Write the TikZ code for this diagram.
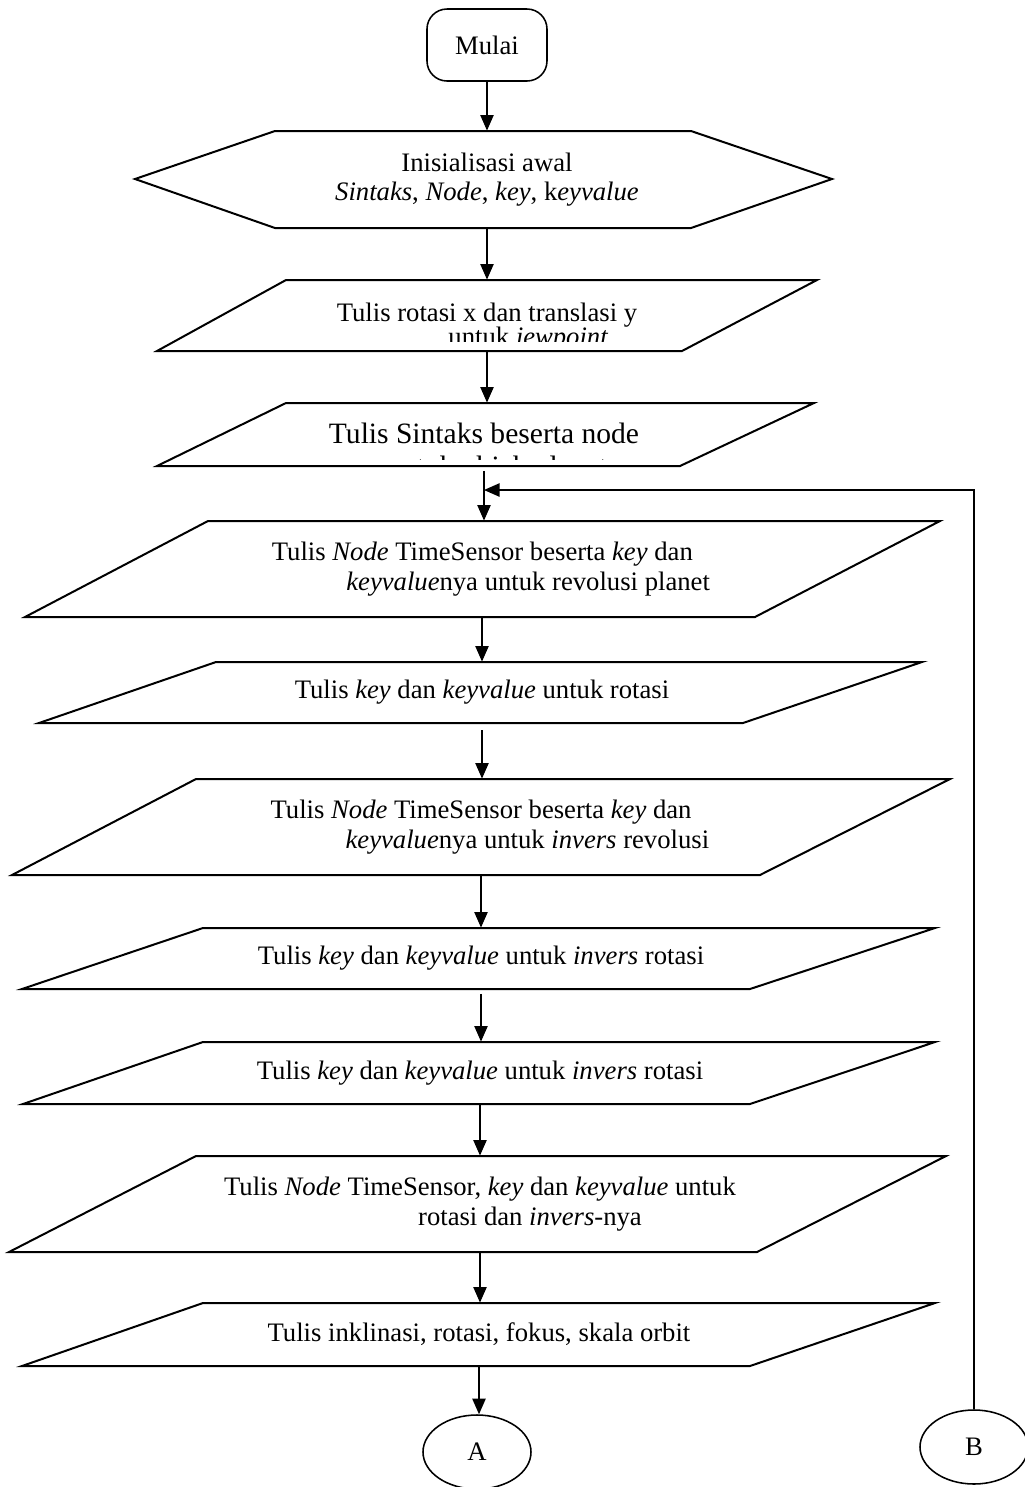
\documentclass[tikz,border=0pt]{standalone}
\usepackage{fontspec}
\setmainfont{Liberation Serif}
\usetikzlibrary{arrows.meta,shapes.geometric}
\tikzset{
  garis/.style={line width=0.9pt},
  panah/.style={line width=0.6pt,-{Triangle[length=7pt,width=6pt]}},
  teks/.style={inner sep=0pt,align=left,font=\fontsize{12}{13.5}\selectfont},
  konektor/.style={draw,ellipse,line width=0.7pt,inner sep=0pt,minimum width=48.6pt,minimum height=33.3pt,font=\fontsize{12}{14}\selectfont}
}

\begin{document}
\begin{tikzpicture}[x=0.45pt,y=-0.45pt]
		\useasboundingbox (0,0) rectangle (1024,1487);
		% awal
		\node[draw,line width=0.7pt,rounded corners=9pt,minimum width=54pt,minimum height=32.4pt,font=\fontsize{12}{14}\selectfont] (mulai) at (487,45) {Mulai};
		\draw[garis] (135,179) -- (275,131) -- (691,131) -- (832,179) -- (691,228) -- (275,228) -- cycle;
		\node[teks,align=center,minimum height=43.65pt,font=\fontsize{12}{13}\selectfont] (init) at (487,179.5) {Inisialisasi awal\\ \textit{Sintaks}, \textit{Node}, \textit{key}, k\textit{eyvalue}};
		% kotak tulis
		\draw[garis] (286,280) -- (817,280) -- (682,351) -- (157,351) -- cycle;
		\node[teks,minimum height=31.95pt] (viewp) at (487,315.5) {\raisebox{1.5pt}{Tulis rotasi x dan translasi y}};
		\begin{scope}
		\clip (157,280) rectangle (817,341);
		\node[teks,anchor=base west] (jew) at (448,345) {untuk \textit{jewpoint}};
		\end{scope}
		\draw[garis] (286,403) -- (814,403) -- (680,466) -- (157,466) -- cycle;
		\node[teks,minimum height=28.35pt,font=\fontsize{13.3}{16}\selectfont] (sintaks) at (484,434.5) {\raisebox{1pt}{Tulis Sintaks beserta node}};
		\begin{scope}
		\clip (157,403) rectangle (814,459);
		\node[teks,anchor=base,font=\fontsize{13.3}{16}\selectfont] (objek) at (497,476) {untuk objek planet};
		\end{scope}
		\draw[garis] (208,521) -- (940,521) -- (755,617) -- (25,617) -- cycle;
		\node[teks,minimum height=43.2pt] (revol) at (482,569) {\hspace*{8pt}Tulis \textit{Node} TimeSensor beserta \textit{key} dan\\ \hspace*{41.5pt}\textit{keyvalue}nya untuk revolusi planet};
		\draw[garis] (216,662) -- (922,662) -- (743,723) -- (39,723) -- cycle;
		\node[teks,minimum height=27.45pt] (rotasi) at (482,692.5) {Tulis \textit{key} dan \textit{keyvalue} untuk rotasi};
		\draw[garis] (196,779) -- (950,779) -- (760,875) -- (12,875) -- cycle;
		\node[teks,minimum height=43.2pt] (invrevol) at (481,827) {\hspace*{8pt}Tulis \textit{Node} TimeSensor beserta \textit{key} dan\\ \hspace*{41.75pt}\textit{keyvalue}nya untuk \textit{invers} revolusi};
		\draw[garis] (203,928) -- (935,928) -- (750,989) -- (22,989) -- cycle;
		\node[teks,minimum height=27.45pt] (invrot) at (481,958.5) {Tulis \textit{key} dan \textit{keyvalue} untuk \textit{invers} rotasi};
		\draw[garis] (203,1042) -- (935,1042) -- (750,1104) -- (23,1104) -- cycle;
		\node[teks,minimum height=27.9pt] (invrotb) at (480,1073) {Tulis \textit{key} dan \textit{keyvalue} untuk \textit{invers} rotasi};
		\draw[garis] (196,1156) -- (946,1156) -- (757,1252) -- (9,1252) -- cycle;
		\node[teks,minimum height=43.2pt] (gabung) at (480,1204) {Tulis \textit{Node} TimeSensor, \textit{key} dan \textit{keyvalue} untuk\\ \hspace*{87.3pt}rotasi dan \textit{invers}-nya};
		\draw[garis] (203,1303) -- (935,1303) -- (750,1366) -- (22,1366) -- cycle;
		\node[teks,minimum height=28.35pt] (orbit) at (479,1334.5) {Tulis inklinasi, rotasi, fokus, skala orbit};
		% penghubung
		\node[konektor] (konA) at (477,1452) {A};
		\node[konektor] (konB) at (974,1447) {B};
		\coordinate (masuk) at (484,490);
		\draw[panah] (mulai.south) -- (mulai.south |- init.north);
		\draw[panah] (init.south) -- (init.south |- viewp.north);
		\draw[panah] (viewp.south) -- (viewp.south |- sintaks.north);
		\draw[panah,shorten <=2pt] (sintaks.south) -- (sintaks.south |- revol.north);
		\draw[panah] (revol.south) -- (revol.south |- rotasi.north);
		\draw[panah,shorten <=3pt] (rotasi.south) -- (rotasi.south |- invrevol.north);
		\draw[panah] (invrevol.south) -- (invrevol.south |- invrot.north);
		\draw[panah,shorten <=2pt] (invrot.south) -- (invrot.south |- invrotb.north);
		\draw[panah] (invrotb.south) -- (invrotb.south |- gabung.north);
		\draw[panah] (gabung.south) -- (gabung.south |- orbit.north);
		\draw[panah] (orbit.south) -- (orbit.south |- konA.north);
		\draw[panah] (konB.north) |- (masuk);
\end{tikzpicture}
\end{document}
